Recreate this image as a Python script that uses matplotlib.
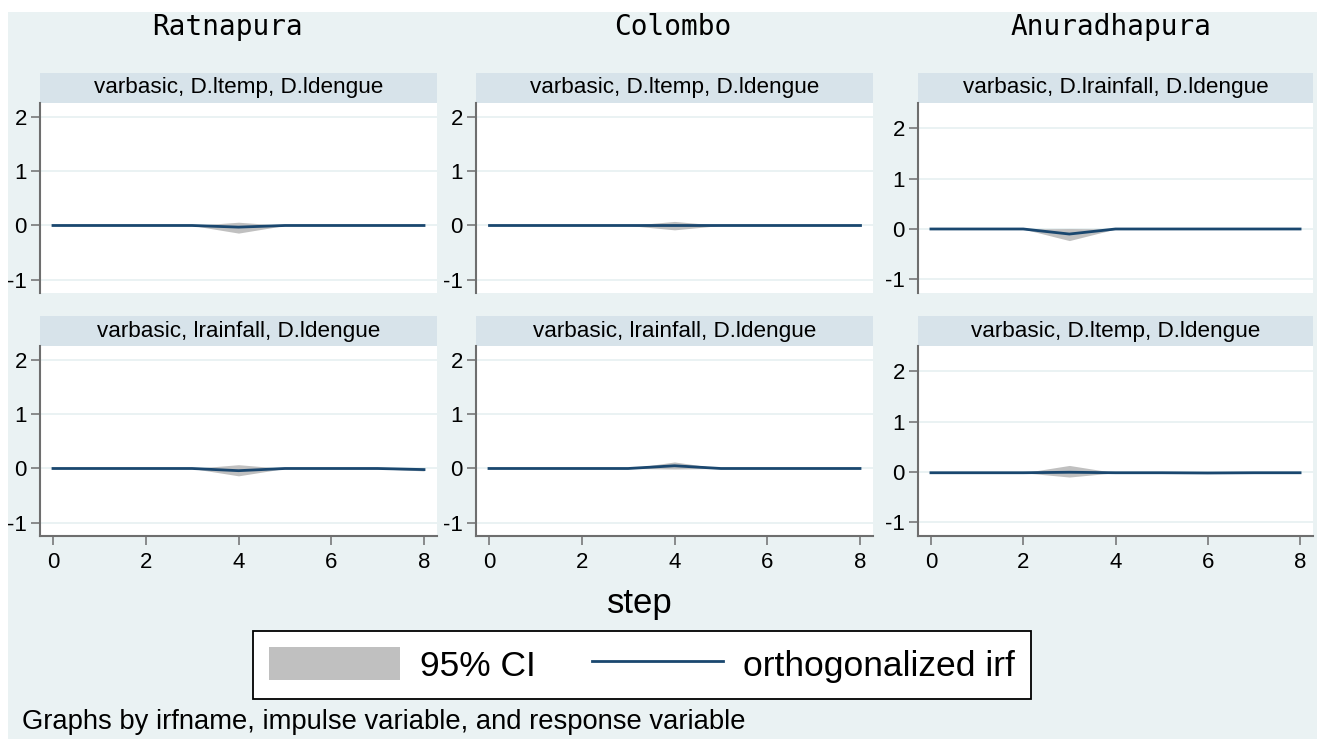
import matplotlib.pyplot as plt
from matplotlib.patches import Rectangle, Patch
from matplotlib.lines import Line2D

plt.rcParams["axes.unicode_minus"] = False
plt.rcParams["font.family"] = ["Liberation Sans", "DejaVu Sans"]

# --- data: orthogonalized IRFs with 95% CI, steps 0..8 ---
steps = [0, 1, 2, 3, 4, 5, 6, 7, 8]
cities = ["Ratnapura", "Colombo", "Anuradhapura"]
top_titles = ["varbasic, D.ltemp, D.ldengue",
              "varbasic, D.ltemp, D.ldengue",
              "varbasic, D.lrainfall, D.ldengue"]
bottom_titles = ["varbasic, lrainfall, D.ldengue",
                 "varbasic, lrainfall, D.ldengue",
                 "varbasic, D.ltemp, D.ldengue"]

ratna_temp_irf = [0, 0, 0, 0, -0.03, 0, 0, 0, 0]
ratna_temp_lo = [0, 0, 0, 0, -0.14, 0, 0, 0, 0]
ratna_temp_hi = [0, 0, 0, 0, 0.06, 0, 0, 0, 0]

ratna_rain_irf = [0, 0, 0, 0, -0.04, 0, 0, 0, -0.02]
ratna_rain_lo = [0, 0, 0, 0, -0.135, 0, 0, -0.005, -0.045]
ratna_rain_hi = [0, 0, 0, 0, 0.07, 0, 0, 0.005, 0.01]

colombo_temp_irf = [0, 0, 0, 0, 0.0, 0, 0, 0, 0]
colombo_temp_lo = [0, 0, 0, 0, -0.08, 0, 0, 0, 0]
colombo_temp_hi = [0, 0, 0, 0, 0.075, 0, 0, 0, 0]

colombo_rain_irf = [0, 0, 0, 0, 0.05, 0, 0, 0, 0]
colombo_rain_lo = [0, 0, 0, 0, -0.01, 0, 0, 0, 0]
colombo_rain_hi = [0, 0, 0, 0, 0.12, 0, 0, 0, 0]

anura_rain_irf = [0, 0, 0, -0.1, 0, 0, 0.0, 0, 0]
anura_rain_lo = [0, 0, 0, -0.23, 0, 0, -0.01, 0, 0]
anura_rain_hi = [0, 0, 0, 0.01, 0, 0, 0.01, 0, 0]

anura_temp_irf = [-0.015, -0.015, -0.015, -0.005, -0.015, -0.015, -0.02, -0.015, -0.015]
anura_temp_lo = [-0.015, -0.015, -0.015, -0.1, -0.015, -0.015, -0.03, -0.015, -0.015]
anura_temp_hi = [-0.015, -0.015, -0.015, 0.13, -0.015, -0.015, -0.01, -0.015, -0.015]

top_row = [(ratna_temp_irf, ratna_temp_lo, ratna_temp_hi),
           (colombo_temp_irf, colombo_temp_lo, colombo_temp_hi),
           (anura_rain_irf, anura_rain_lo, anura_rain_hi)]
bottom_row = [(ratna_rain_irf, ratna_rain_lo, ratna_rain_hi),
              (colombo_rain_irf, colombo_rain_lo, colombo_rain_hi),
              (anura_temp_irf, anura_temp_lo, anura_temp_hi)]

# --- style ---
W, H = 1317, 739
BG = "#EAF2F3"
STRIP = "#D7E3EA"
NAVY = "#1A476F"
CI = "#C0C0C0"
AXC = "#6E6E6E"

col_left = [40, 476, 918]
col_width = [397, 397, 395]
col_center = [228, 673, 1111]
col_ylim = [(-1.24, 2.25), (-1.24, 2.25), (-1.27, 2.5)]
row_top = [103, 346]
row_height = 190
strip_h = 30

fig = plt.figure(figsize=(W / 100, H / 100), dpi=100)
fig.patch.set_facecolor("white")
fig.patches.append(Rectangle((8 / W, 0), 1 - 8 / W, 1 - 12 / H, transform=fig.transFigure,
                             facecolor=BG, edgecolor="none", zorder=-5))

for r, (row, titles) in enumerate([(top_row, top_titles), (bottom_row, bottom_titles)]):
    for c in range(3):
        irf, lo, hi = row[c]
        ax = fig.add_axes([col_left[c] / W, 1 - (row_top[r] + row_height) / H,
                           col_width[c] / W, row_height / H])
        ax.set_facecolor("white")
        ax.fill_between(steps, lo, hi, color=CI, linewidth=0, zorder=2)
        ax.plot(steps, irf, color=NAVY, linewidth=2, zorder=3)
        ax.set_xlim(-0.28, 8.28)
        ax.set_ylim(*col_ylim[c])
        ax.set_yticks([-1, 0, 1, 2])
        ax.set_xticks([0, 2, 4, 6, 8])
        ax.grid(axis="y", color=BG, linewidth=1.4, zorder=1)
        ax.set_axisbelow(True)
        ax.spines[["top", "right"]].set_visible(False)
        ax.spines["left"].set_color(AXC)
        ax.spines["left"].set_linewidth(1.5)
        ax.spines["bottom"].set_color(AXC)
        ax.spines["bottom"].set_linewidth(1.5)
        ax.tick_params(axis="both", colors=AXC, labelcolor="black", labelsize=16,
                       length=6.5, width=1.1, pad=3)
        ax.tick_params(axis="x", pad=5)
        if r == 0:
            ax.spines["bottom"].set_visible(False)
            ax.tick_params(axis="x", bottom=False, labelbottom=False)
        ax.add_patch(Rectangle((0, 1), 1, strip_h / row_height, transform=ax.transAxes,
                               clip_on=False, facecolor=STRIP, edgecolor="none"))
        ax.text(0.5, 1 + strip_h / 2 / row_height, titles[c], transform=ax.transAxes,
                ha="center", va="center", fontsize=16.2)

for c, name in enumerate(cities):
    fig.text(col_center[c] / W, 1 - 27 / H, name, ha="center", va="center",
             fontsize=20, family=["DejaVu Sans Mono"])

fig.text(640 / W, 1 - 603 / H, "step", ha="center", va="center", fontsize=25)

handles = [Patch(facecolor=CI, edgecolor="none", label="95% CI"),
           Line2D([0], [0], color=NAVY, linewidth=2, label="orthogonalized irf")]
leg = fig.legend(handles=handles, loc="center", bbox_to_anchor=(642 / W, 1 - 665 / H),
                 ncol=2, fontsize=25.5, frameon=True, fancybox=False, edgecolor="black",
                 facecolor="white", framealpha=1, handlelength=3.7, handleheight=1.05,
                 handletextpad=0.55, columnspacing=1.6, borderpad=0.45)
leg.get_frame().set_linewidth(1.3)

fig.text(22 / W, 1 - 722 / H, "Graphs by irfname, impulse variable, and response variable",
         ha="left", va="center", fontsize=19.7)

fig.savefig("out.png", dpi=100, facecolor="white")
